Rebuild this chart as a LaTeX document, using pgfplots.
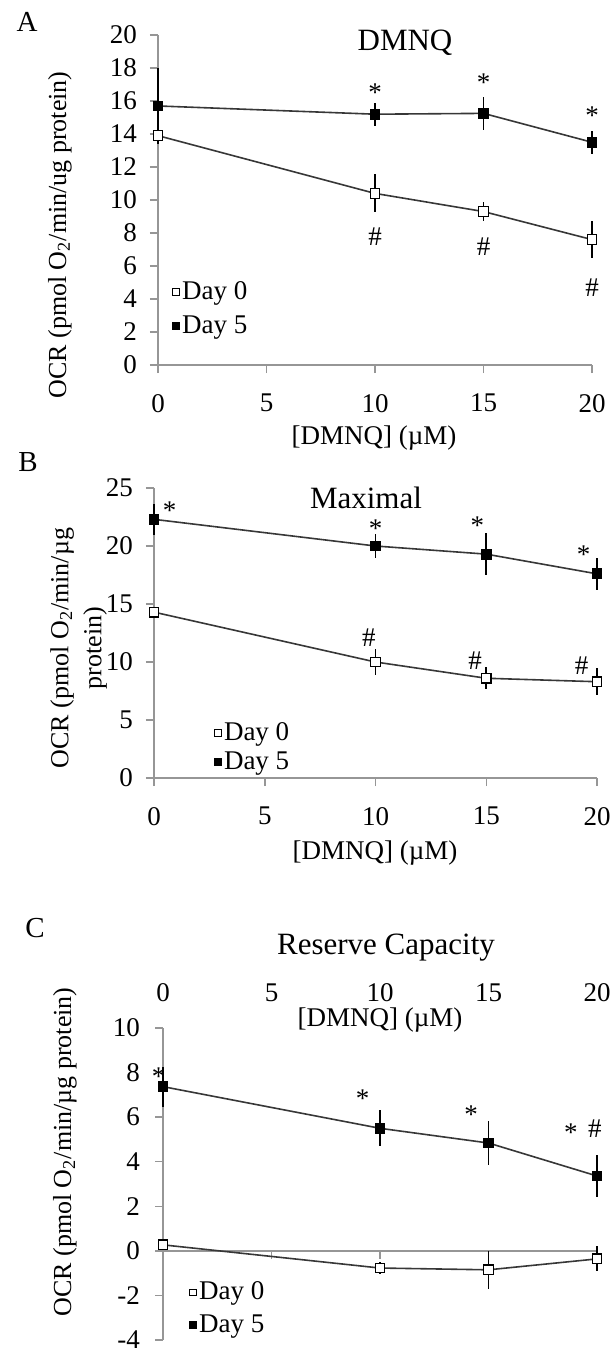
\documentclass[border=0pt]{standalone}
\usepackage{pgfplots}
\pgfplotsset{compat=1.18}
\usepackage{fontspec}
\setmainfont{Liberation Serif}

\definecolor{axgray}{RGB}{150,150,150}
\definecolor{linegray}{RGB}{55,55,55}

\newcommand{\fs}{\fontsize{13.5}{16}\selectfont}
\newcommand{\ttl}{\fontsize{15.5}{18}\selectfont}
\tikzset{astr/.style={font=\fs, yshift=-2pt}, hsh/.style={font=\fs}}

\pgfplotsset{
  panel/.style={
    scale only axis, anchor=south west, clip=false,
    xmin=0, xmax=20, xtick={0,5,10,15,20},
    axis line style={axgray, line width=0.75pt},
    tick style={axgray, line width=0.75pt},
    tick align=outside, major tick length=4pt,
    ticklabel style={font=\fs},
    /pgf/number format/assume math mode=true,
    legend cell align=left,
    legend style={draw=none, fill=none, font=\fs, anchor=west,
                  inner sep=0pt, nodes={inner sep=1pt}},
  },
  day0/.style={linegray, line width=0.8pt, mark=square*, mark size=2.4pt,
    mark options={fill=white, draw=black, solid, line width=0.6pt},
    legend image code/.code={\draw[black, line width=0.5pt, fill=white]
        (0pt,-1.7pt) rectangle (3.4pt,1.7pt);},
    error bars/.cd, y dir=both, y explicit, error mark=none,
    error bar style={black, line width=0.8pt}},
  day5/.style={linegray, line width=0.8pt, mark=square*, mark size=2.4pt,
    mark options={fill=black, draw=black, solid, line width=0.6pt},
    legend image code/.code={\draw[black, line width=0.5pt, fill=black]
        (0pt,-1.7pt) rectangle (3.4pt,1.7pt);},
    error bars/.cd, y dir=both, y explicit, error mark=none,
    error bar style={black, line width=0.8pt}},
}

\begin{document}
\begin{tikzpicture}
\path[use as bounding box] (0,0) rectangle (305.5pt,-674.5pt);

% ---- A: DMNQ
\begin{axis}[panel, at={(79pt,-182.5pt)}, width=217pt, height=165pt,
    axis x line*=bottom, axis y line*=left,
    ymin=0, ymax=20, ytick={0,2,...,20},
    xticklabel style={yshift=-7pt}, yticklabel style={xshift=-3pt},
    legend style={at={(0.032,0.17)}, row sep=4.5pt}]
  \addplot[day0] coordinates {(0,13.9) +- (0,0.5) (10,10.4) +- (0,1.15)
      (15,9.3) +- (0,0.55) (20,7.6) +- (0,1.1)};
  \addlegendentry{Day 0}
  \addplot[day5] coordinates {(0,15.7) +- (0,2.3) (10,15.2) +- (0,0.7)
      (15,15.25) +- (0,1.0) (20,13.5) +- (0,0.7)};
  \addlegendentry{Day 5}
  \node[astr] at (axis cs:10,16.75) {*};
  \node[astr] at (axis cs:15,17.35) {*};
  \node[astr] at (axis cs:20,15.35) {*};
  \node[hsh] at (axis cs:10,7.8) {\#};
  \node[hsh] at (axis cs:15,7.2) {\#};
  \node[hsh] at (axis cs:20,4.7) {\#};
\end{axis}

% ---- B: Maximal
\begin{axis}[panel, at={(77pt,-389pt)}, width=221.5pt, height=145pt,
    axis x line*=bottom, axis y line*=left,
    ymin=0, ymax=25, ytick={0,5,...,25},
    xticklabel style={yshift=-7pt}, yticklabel style={xshift=-3pt},
    legend style={at={(0.135,0.105)}, row sep=2pt}]
  \addplot[day0] coordinates {(0,14.3) +- (0,0.4) (10,10.0) +- (0,1.15)
      (15,8.6) +- (0,0.95) (20,8.3) +- (0,1.15)};
  \addlegendentry{Day 0}
  \addplot[day5] coordinates {(0,22.3) +- (0,1.35) (10,20.0) +- (0,1.0)
      (15,19.3) +- (0,1.8) (20,17.6) +- (0,1.4)};
  \addlegendentry{Day 5}
  \node[astr] at (axis cs:0.7,23.4) {*};
  \node[astr] at (axis cs:10,21.8) {*};
  \node[astr] at (axis cs:14.6,22.1) {*};
  \node[astr] at (axis cs:19.4,19.6) {*};
  \node[hsh] at (axis cs:9.7,12.1) {\#};
  \node[hsh] at (axis cs:14.5,10.1) {\#};
  \node[hsh] at (axis cs:19.3,9.7) {\#};
\end{axis}

% ---- C: Reserve Capacity
\begin{axis}[panel, at={(81.5pt,-670pt)}, width=217pt, height=156pt,
    axis x line*=top, axis y line*=left,
    x axis line style={draw=none}, xtick=\empty,
    ymin=-4, ymax=10, ytick={-4,-2,...,10},
    yticklabels={-4,-2,0,2,4,6,8,10},
    yticklabel style={xshift=-4pt},
    legend style={at={(0.06,0.10)}, row sep=4pt}]
  \draw[axgray, line width=0.75pt] (axis cs:0,0) -- (axis cs:20,0);
  \pgfplotsinvokeforeach{0,5,10,15,20}{
    \draw[axgray, line width=0.75pt] (axis cs:#1,0) -- ++(0pt,-4pt);
    \node[font=\fs, yshift=17.5pt] at (axis cs:#1,10) {#1};}
  \addplot[day0] coordinates {(0,0.27) +- (0,0.2) (10,-0.77) +- (0,0.25)
      (15,-0.85) +- (0,0.85) (20,-0.36) +- (0,0.56)};
  \addlegendentry{Day 0}
  \addplot[day5] coordinates {(0,7.37) +- (0,0.9) (10,5.5) +- (0,0.8)
      (15,4.84) +- (0,0.97) (20,3.36) +- (0,0.95)};
  \addlegendentry{Day 5}
  \node[astr] at (axis cs:-0.2,8.0) {*};
  \node[astr] at (axis cs:9.2,7.0) {*};
  \node[astr] at (axis cs:14.2,6.3) {*};
  \node[astr] at (axis cs:18.8,5.5) {*};
  \node[hsh] at (axis cs:19.9,5.5) {\#};
\end{axis}

% ---- labels, titles, panel letters (positions in image pixels)
\begin{scope}[x=0.5pt, y=-0.5pt]
  \node[font=\fontsize{14.5}{17}\selectfont] at (27,22) {A};
  \node[font=\fontsize{14.5}{17}\selectfont] at (28,462) {B};
  \node[font=\fontsize{14.5}{17}\selectfont] at (35,928) {C};
  \node[font=\ttl] at (405,43) {DMNQ};
  \node[font=\ttl] at (366,498) {Maximal};
  \node[font=\ttl] at (386,948) {Reserve Capacity};
  \node[font=\fs] at (374,438) {[DMNQ] (µM)};
  \node[font=\fs] at (375,853) {[DMNQ] (µM)};
  \node[font=\fs, inner sep=1pt] at (380,1020) {[DMNQ] (µM)};
  \node[font=\fontsize{13}{16.5}\selectfont, rotate=90] at (60,235)
      {OCR (pmol O\textsubscript{2}/min/ug protein)};
  \node[font=\fontsize{13}{16.5}\selectfont, rotate=90, align=center,
        inner sep=0pt] at (78.5,648)
      {OCR (pmol O\textsubscript{2}/min/µg\\protein)};
  \node[font=\fontsize{13}{16.5}\selectfont, rotate=90] at (65,1152)
      {OCR (pmol O\textsubscript{2}/min/µg protein)};
\end{scope}
\end{tikzpicture}
\end{document}
